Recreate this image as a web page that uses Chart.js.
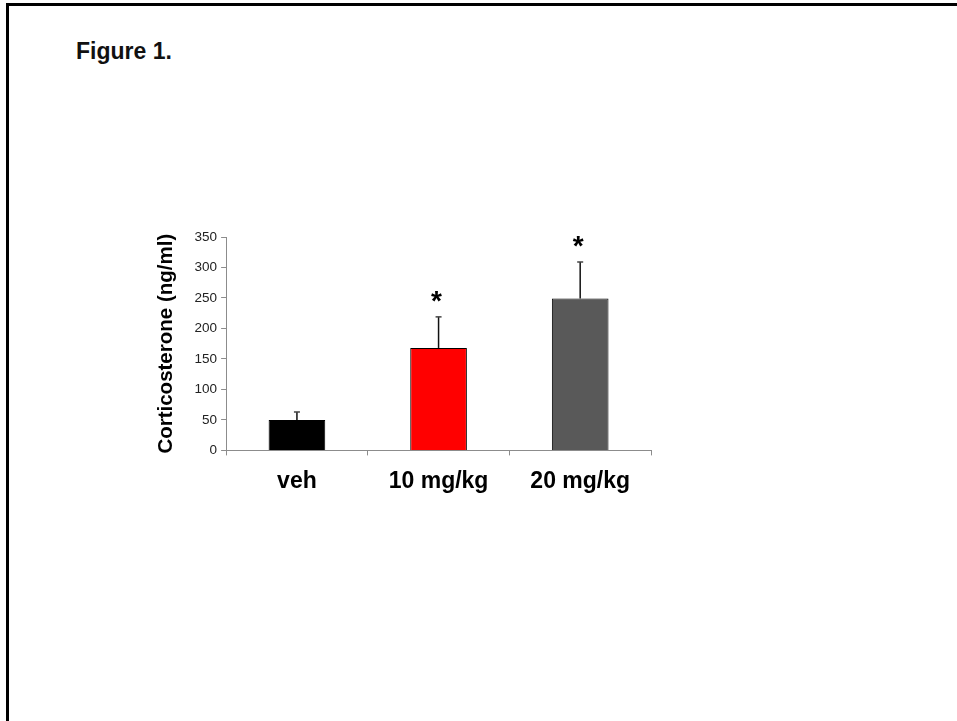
<!DOCTYPE html>
<html>
<head>
<meta charset="utf-8">
<script src="https://cdn.jsdelivr.net/npm/chart.js@4"></script>
<style>
body{margin:0;background:#fff;font-family:"Liberation Sans",Arial,sans-serif;}
#frame{position:absolute;left:6px;top:3px;width:1000px;height:800px;border-top:3px solid #000;border-left:3px solid #000;}
#fig{position:absolute;left:76px;top:40px;font-size:23px;line-height:22px;font-weight:bold;color:#111;}
#wrap{position:absolute;left:0;top:0;width:957px;height:721px;}
</style>
</head>
<body>
<div id="frame"></div>
<div id="fig">Figure 1.</div>
<div id="wrap"><canvas id="c"></canvas></div>
<script>
const groups = ["veh", "10 mg/kg", "20 mg/kg"];
const means = [50, 168, 249];
const sem = [13, 51, 60];
const stars = ["", "*", "*"];
const barColors = ["#000000", "#ff0000", "#595959"];
const yTicks = [0, 50, 100, 150, 200, 250, 300, 350];

const font = "'Liberation Sans', Arial, sans-serif";

// upper error bars + significance stars
const errorBars = {
  id: "errorBars",
  afterDatasetsDraw(chart){
    let ctx = chart.ctx, y = chart.scales.y;
    let meta = chart.getDatasetMeta(0);
    ctx.save();
    meta.data.forEach((bar, i) => {
      let x = bar.x;
      let top = y.getPixelForValue(means[i] + sem[i]);
      ctx.strokeStyle = "#111"; ctx.lineWidth = 1.5;
      ctx.beginPath(); ctx.moveTo(x, bar.y); ctx.lineTo(x, top); ctx.stroke();
      ctx.strokeStyle = "#444"; ctx.lineWidth = 1.5;
      ctx.beginPath(); ctx.moveTo(x - 3, top); ctx.lineTo(x + 3, top); ctx.stroke();
      if(stars[i]){
        let size = 28;
        ctx.fillStyle = "#000";
        ctx.font = "bold " + size + "px " + font;
        ctx.textAlign = "center"; ctx.textBaseline = "alphabetic";
        ctx.fillText(stars[i], x - 2, top - 23 + 0.57 * size);
      }
    });
    ctx.restore();
  }
};

new Chart(document.getElementById("c"), {
  type: "bar",
  data: {
    labels: groups,
    datasets: [{
      data: means,
      backgroundColor: barColors,
      borderColor: "#000",
      borderWidth: 1,
      barPercentage: 0.4,
      categoryPercentage: 1
    }]
  },
  options: {
    responsive: true,
    maintainAspectRatio: false,
    animation: false,
    layout: { padding: { left: 154, top: 237, right: 306, bottom: 214 } },
    plugins: { legend: { display: false }, tooltip: { enabled: false } },
    scales: {
      x: {
        grid: { drawOnChartArea: false, color: "#8c8c8c", tickLength: 5, offset: true },
        border: { color: "#8c8c8c", width: 1 },
        ticks: { color: "#000", padding: 12, font: { family: font, size: 23, weight: "bold" } }
      },
      y: {
        min: 0, max: 350,
        afterBuildTicks(s){ s.ticks = yTicks.map(v => ({ value: v })); },
        grid: { drawOnChartArea: false, color: "#8c8c8c", tickLength: 5 },
        border: { color: "#8c8c8c", width: 1 },
        ticks: { color: "#222", padding: 4, font: { family: font, size: 13.5 } },
        title: {
          display: true, text: "Corticosterone (ng/ml)", color: "#000",
          padding: { top: 0, bottom: 12 },
          font: { family: font, size: 20.5, weight: "bold" }
        }
      }
    }
  },
  plugins: [errorBars]
});
</script>
</body>
</html>
